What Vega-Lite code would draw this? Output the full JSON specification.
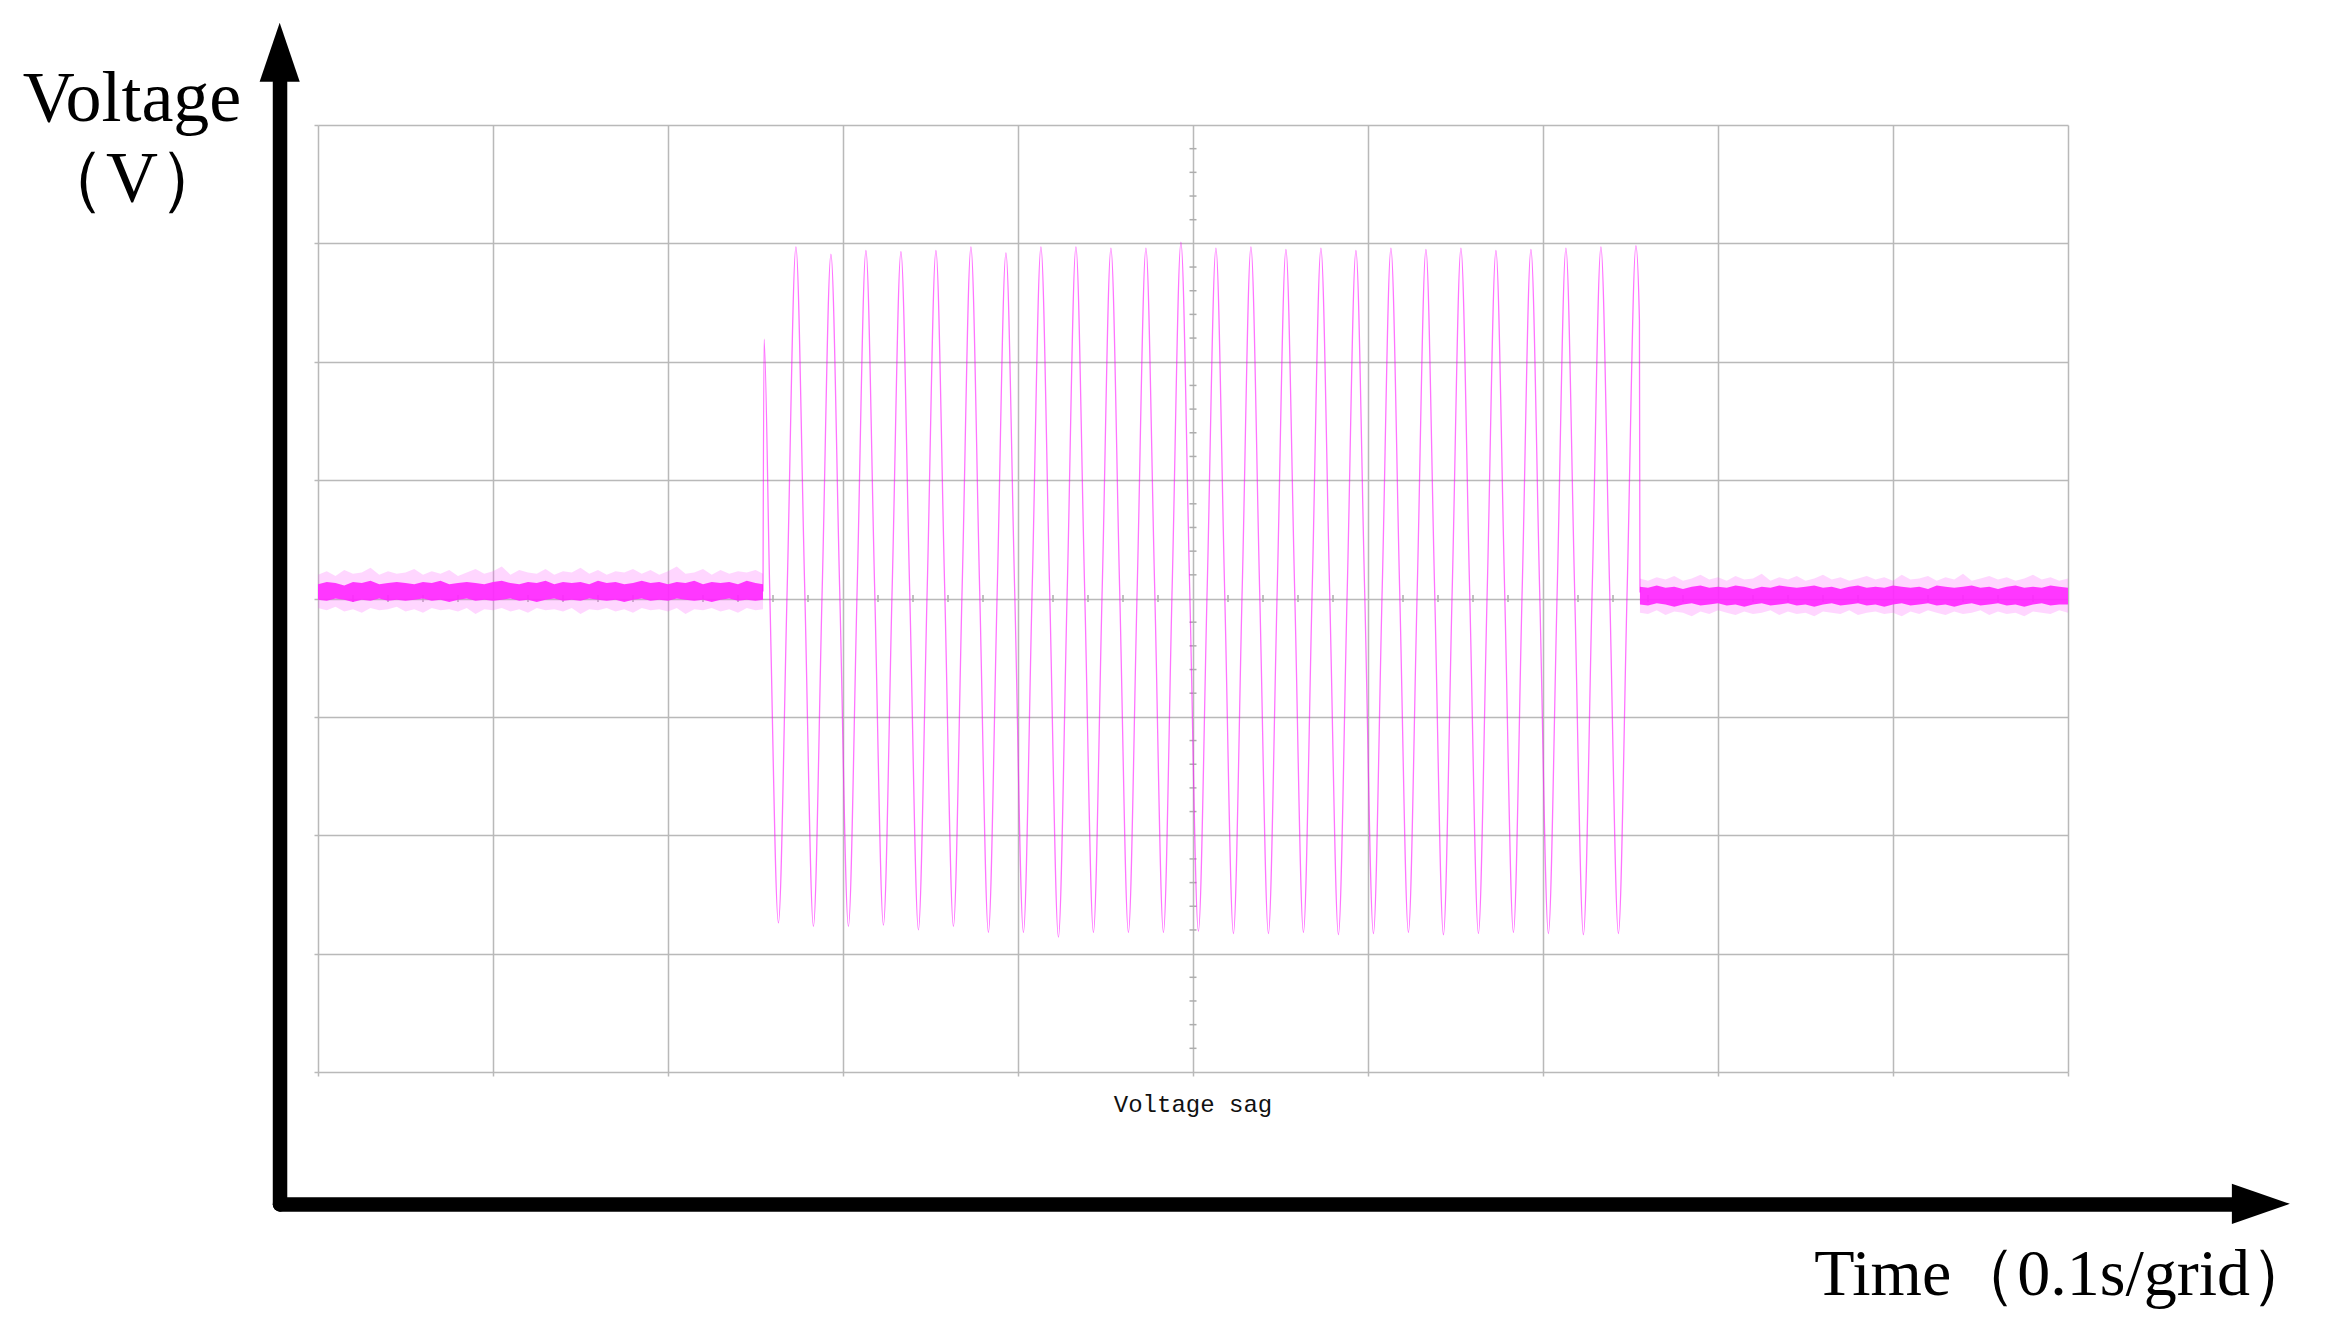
{
  "$schema": "https://vega.github.io/schema/vega-lite/v6.json",
  "width": 1750,
  "height": 947,
  "autosize": {"type": "none"},
  "padding": {"left": 318, "top": 125, "right": 264, "bottom": 257},
  "background": "white",
  "config": {
    "view": {"stroke": null},
    "axis": {"grid": true, "gridColor": "#b9b9b9", "gridWidth": 1.5, "labels": false, "domain": false, "ticks": true, "tickSize": 4, "tickColor": "#b9b9b9", "tickWidth": 1.5},
    "axisX": {"tickCount": 10},
    "axisY": {"tickCount": 8}
  },
  "datasets": {
    "sine": [
      {"t":0.2543,"v":6},{"t":0.2549,"v":219},{"t":0.2581,"v":9},{"t":0.2631,"v":-274},{"t":0.2681,"v":8},
      {"t":0.2731,"v":297},{"t":0.2781,"v":10},{"t":0.2831,"v":-277},{"t":0.2881,"v":7},
      {"t":0.2931,"v":291},{"t":0.2981,"v":8},{"t":0.3031,"v":-277},{"t":0.3081,"v":9},
      {"t":0.3131,"v":294},{"t":0.3181,"v":8},{"t":0.3231,"v":-276},{"t":0.3281,"v":9},
      {"t":0.3331,"v":293},{"t":0.3381,"v":7},{"t":0.3431,"v":-280},{"t":0.3481,"v":7},
      {"t":0.3531,"v":294},{"t":0.3581,"v":9},{"t":0.3631,"v":-277},{"t":0.3681,"v":10},
      {"t":0.3731,"v":297},{"t":0.3781,"v":7},{"t":0.3831,"v":-282},{"t":0.3881,"v":5},
      {"t":0.3931,"v":292},{"t":0.3981,"v":7},{"t":0.4031,"v":-282},{"t":0.4081,"v":8},
      {"t":0.4131,"v":297},{"t":0.4181,"v":6},{"t":0.4231,"v":-286},{"t":0.4281,"v":5},
      {"t":0.4331,"v":297},{"t":0.4381,"v":7},{"t":0.4431,"v":-282},{"t":0.4481,"v":7},
      {"t":0.4531,"v":296},{"t":0.4581,"v":7},{"t":0.4631,"v":-282},{"t":0.4681,"v":8},
      {"t":0.4731,"v":296},{"t":0.4781,"v":9},{"t":0.4831,"v":-282},{"t":0.4881,"v":10},
      {"t":0.4931,"v":301},{"t":0.4981,"v":9},{"t":0.5031,"v":-281},{"t":0.5081,"v":8},
      {"t":0.5131,"v":296},{"t":0.5181,"v":6},{"t":0.5231,"v":-283},{"t":0.5281,"v":7},
      {"t":0.5331,"v":297},{"t":0.5381,"v":6},{"t":0.5431,"v":-283},{"t":0.5481,"v":6},
      {"t":0.5531,"v":295},{"t":0.5581,"v":7},{"t":0.5631,"v":-282},{"t":0.5681,"v":7},
      {"t":0.5731,"v":296},{"t":0.5781,"v":5},{"t":0.5831,"v":-284},{"t":0.5881,"v":5},
      {"t":0.5931,"v":294},{"t":0.5981,"v":6},{"t":0.6031,"v":-283},{"t":0.6081,"v":7},
      {"t":0.6131,"v":296},{"t":0.6181,"v":7},{"t":0.6231,"v":-282},{"t":0.6281,"v":6},
      {"t":0.6331,"v":295},{"t":0.6381,"v":6},{"t":0.6431,"v":-284},{"t":0.6481,"v":6},
      {"t":0.6531,"v":296},{"t":0.6581,"v":6},{"t":0.6631,"v":-283},{"t":0.6681,"v":5},
      {"t":0.6731,"v":294},{"t":0.6781,"v":6},{"t":0.6831,"v":-282},{"t":0.6881,"v":7},
      {"t":0.6931,"v":295},{"t":0.6981,"v":6},{"t":0.7031,"v":-283},{"t":0.7081,"v":6},
      {"t":0.7131,"v":296},{"t":0.7181,"v":6},{"t":0.7231,"v":-284},{"t":0.7281,"v":7},
      {"t":0.7331,"v":297},{"t":0.7381,"v":7},{"t":0.7431,"v":-283},{"t":0.7481,"v":8},
      {"t":0.7531,"v":298},{"t":0.7551,"v":235},{"t":0.7554,"v":5}
    ],
    "noise": [
      {"seg":"a","t":0.000,"lo":-1,"hi":12,"lo2":-8,"hi2":20},
      {"seg":"a","t":0.005,"lo":-2,"hi":14,"lo2":-10,"hi2":23},
      {"seg":"a","t":0.010,"lo":0,"hi":13,"lo2":-7,"hi2":19},
      {"seg":"a","t":0.015,"lo":-1,"hi":11,"lo2":-11,"hi2":24},
      {"seg":"a","t":0.020,"lo":-3,"hi":14,"lo2":-9,"hi2":21},
      {"seg":"a","t":0.025,"lo":-1,"hi":13,"lo2":-12,"hi2":22},
      {"seg":"a","t":0.030,"lo":-2,"hi":15,"lo2":-8,"hi2":26},
      {"seg":"a","t":0.035,"lo":0,"hi":12,"lo2":-10,"hi2":20},
      {"seg":"a","t":0.040,"lo":-2,"hi":13,"lo2":-9,"hi2":23},
      {"seg":"a","t":0.045,"lo":-1,"hi":14,"lo2":-7,"hi2":21},
      {"seg":"a","t":0.050,"lo":-2,"hi":13,"lo2":-11,"hi2":22},
      {"seg":"a","t":0.055,"lo":-1,"hi":12,"lo2":-9,"hi2":25},
      {"seg":"a","t":0.060,"lo":0,"hi":14,"lo2":-12,"hi2":20},
      {"seg":"a","t":0.065,"lo":-2,"hi":13,"lo2":-8,"hi2":23},
      {"seg":"a","t":0.070,"lo":-1,"hi":15,"lo2":-10,"hi2":21},
      {"seg":"a","t":0.075,"lo":-3,"hi":12,"lo2":-9,"hi2":24},
      {"seg":"a","t":0.080,"lo":-1,"hi":13,"lo2":-11,"hi2":19},
      {"seg":"a","t":0.085,"lo":0,"hi":14,"lo2":-8,"hi2":22},
      {"seg":"a","t":0.090,"lo":-2,"hi":13,"lo2":-13,"hi2":25},
      {"seg":"a","t":0.095,"lo":-1,"hi":12,"lo2":-9,"hi2":21},
      {"seg":"a","t":0.100,"lo":-2,"hi":14,"lo2":-10,"hi2":23},
      {"seg":"a","t":0.105,"lo":-1,"hi":15,"lo2":-8,"hi2":27},
      {"seg":"a","t":0.110,"lo":0,"hi":13,"lo2":-11,"hi2":20},
      {"seg":"a","t":0.115,"lo":-2,"hi":12,"lo2":-9,"hi2":24},
      {"seg":"a","t":0.120,"lo":-1,"hi":14,"lo2":-12,"hi2":22},
      {"seg":"a","t":0.125,"lo":-3,"hi":13,"lo2":-8,"hi2":21},
      {"seg":"a","t":0.130,"lo":-1,"hi":15,"lo2":-10,"hi2":25},
      {"seg":"a","t":0.135,"lo":0,"hi":12,"lo2":-9,"hi2":20},
      {"seg":"a","t":0.140,"lo":-2,"hi":14,"lo2":-11,"hi2":23},
      {"seg":"a","t":0.145,"lo":-1,"hi":13,"lo2":-8,"hi2":22},
      {"seg":"a","t":0.150,"lo":-2,"hi":14,"lo2":-13,"hi2":26},
      {"seg":"a","t":0.155,"lo":0,"hi":12,"lo2":-9,"hi2":21},
      {"seg":"a","t":0.160,"lo":-1,"hi":15,"lo2":-10,"hi2":24},
      {"seg":"a","t":0.165,"lo":-2,"hi":13,"lo2":-8,"hi2":20},
      {"seg":"a","t":0.170,"lo":-1,"hi":14,"lo2":-11,"hi2":23},
      {"seg":"a","t":0.175,"lo":-3,"hi":12,"lo2":-9,"hi2":22},
      {"seg":"a","t":0.180,"lo":-1,"hi":13,"lo2":-12,"hi2":25},
      {"seg":"a","t":0.185,"lo":0,"hi":15,"lo2":-8,"hi2":21},
      {"seg":"a","t":0.190,"lo":-2,"hi":13,"lo2":-10,"hi2":24},
      {"seg":"a","t":0.195,"lo":-1,"hi":14,"lo2":-9,"hi2":20},
      {"seg":"a","t":0.200,"lo":-2,"hi":12,"lo2":-11,"hi2":23},
      {"seg":"a","t":0.205,"lo":0,"hi":14,"lo2":-8,"hi2":27},
      {"seg":"a","t":0.210,"lo":-1,"hi":13,"lo2":-13,"hi2":21},
      {"seg":"a","t":0.215,"lo":-2,"hi":15,"lo2":-9,"hi2":22},
      {"seg":"a","t":0.220,"lo":-1,"hi":12,"lo2":-10,"hi2":25},
      {"seg":"a","t":0.225,"lo":-3,"hi":14,"lo2":-8,"hi2":20},
      {"seg":"a","t":0.230,"lo":-1,"hi":13,"lo2":-11,"hi2":24},
      {"seg":"a","t":0.235,"lo":0,"hi":14,"lo2":-9,"hi2":21},
      {"seg":"a","t":0.240,"lo":-2,"hi":12,"lo2":-12,"hi2":23},
      {"seg":"a","t":0.245,"lo":-1,"hi":15,"lo2":-8,"hi2":22},
      {"seg":"a","t":0.250,"lo":-2,"hi":13,"lo2":-10,"hi2":24},
      {"seg":"a","t":0.2543,"lo":-1,"hi":12,"lo2":-9,"hi2":21},
      {"seg":"b","t":0.7554,"lo":-5,"hi":10,"lo2":-12,"hi2":17},
      {"seg":"b","t":0.760,"lo":-6,"hi":9,"lo2":-13,"hi2":15},
      {"seg":"b","t":0.765,"lo":-4,"hi":11,"lo2":-10,"hi2":18},
      {"seg":"b","t":0.770,"lo":-5,"hi":9,"lo2":-14,"hi2":16},
      {"seg":"b","t":0.775,"lo":-7,"hi":10,"lo2":-11,"hi2":19},
      {"seg":"b","t":0.780,"lo":-5,"hi":8,"lo2":-12,"hi2":15},
      {"seg":"b","t":0.785,"lo":-4,"hi":10,"lo2":-15,"hi2":17},
      {"seg":"b","t":0.790,"lo":-6,"hi":11,"lo2":-11,"hi2":20},
      {"seg":"b","t":0.795,"lo":-5,"hi":9,"lo2":-13,"hi2":16},
      {"seg":"b","t":0.800,"lo":-4,"hi":10,"lo2":-10,"hi2":18},
      {"seg":"b","t":0.805,"lo":-6,"hi":9,"lo2":-12,"hi2":15},
      {"seg":"b","t":0.810,"lo":-5,"hi":11,"lo2":-14,"hi2":19},
      {"seg":"b","t":0.815,"lo":-7,"hi":10,"lo2":-11,"hi2":16},
      {"seg":"b","t":0.820,"lo":-5,"hi":8,"lo2":-13,"hi2":17},
      {"seg":"b","t":0.825,"lo":-4,"hi":10,"lo2":-12,"hi2":21},
      {"seg":"b","t":0.830,"lo":-6,"hi":9,"lo2":-10,"hi2":15},
      {"seg":"b","t":0.835,"lo":-5,"hi":11,"lo2":-14,"hi2":18},
      {"seg":"b","t":0.840,"lo":-4,"hi":10,"lo2":-11,"hi2":16},
      {"seg":"b","t":0.845,"lo":-6,"hi":9,"lo2":-13,"hi2":19},
      {"seg":"b","t":0.850,"lo":-5,"hi":10,"lo2":-12,"hi2":15},
      {"seg":"b","t":0.855,"lo":-7,"hi":11,"lo2":-15,"hi2":17},
      {"seg":"b","t":0.860,"lo":-5,"hi":9,"lo2":-11,"hi2":20},
      {"seg":"b","t":0.865,"lo":-4,"hi":10,"lo2":-12,"hi2":16},
      {"seg":"b","t":0.870,"lo":-6,"hi":8,"lo2":-13,"hi2":18},
      {"seg":"b","t":0.875,"lo":-5,"hi":10,"lo2":-10,"hi2":15},
      {"seg":"b","t":0.880,"lo":-4,"hi":11,"lo2":-14,"hi2":17},
      {"seg":"b","t":0.885,"lo":-6,"hi":9,"lo2":-12,"hi2":19},
      {"seg":"b","t":0.890,"lo":-5,"hi":10,"lo2":-11,"hi2":16},
      {"seg":"b","t":0.895,"lo":-7,"hi":9,"lo2":-13,"hi2":18},
      {"seg":"b","t":0.900,"lo":-5,"hi":11,"lo2":-12,"hi2":15},
      {"seg":"b","t":0.905,"lo":-4,"hi":10,"lo2":-15,"hi2":20},
      {"seg":"b","t":0.910,"lo":-6,"hi":9,"lo2":-11,"hi2":16},
      {"seg":"b","t":0.915,"lo":-5,"hi":10,"lo2":-13,"hi2":17},
      {"seg":"b","t":0.920,"lo":-4,"hi":8,"lo2":-10,"hi2":19},
      {"seg":"b","t":0.925,"lo":-6,"hi":11,"lo2":-12,"hi2":15},
      {"seg":"b","t":0.930,"lo":-5,"hi":10,"lo2":-14,"hi2":18},
      {"seg":"b","t":0.935,"lo":-7,"hi":9,"lo2":-11,"hi2":16},
      {"seg":"b","t":0.940,"lo":-5,"hi":10,"lo2":-13,"hi2":21},
      {"seg":"b","t":0.945,"lo":-4,"hi":11,"lo2":-12,"hi2":15},
      {"seg":"b","t":0.950,"lo":-6,"hi":9,"lo2":-10,"hi2":17},
      {"seg":"b","t":0.955,"lo":-5,"hi":10,"lo2":-14,"hi2":19},
      {"seg":"b","t":0.960,"lo":-4,"hi":8,"lo2":-11,"hi2":16},
      {"seg":"b","t":0.965,"lo":-6,"hi":10,"lo2":-13,"hi2":18},
      {"seg":"b","t":0.970,"lo":-5,"hi":11,"lo2":-12,"hi2":15},
      {"seg":"b","t":0.975,"lo":-7,"hi":9,"lo2":-15,"hi2":17},
      {"seg":"b","t":0.980,"lo":-5,"hi":10,"lo2":-11,"hi2":20},
      {"seg":"b","t":0.985,"lo":-4,"hi":9,"lo2":-12,"hi2":16},
      {"seg":"b","t":0.990,"lo":-6,"hi":11,"lo2":-13,"hi2":18},
      {"seg":"b","t":0.995,"lo":-5,"hi":10,"lo2":-10,"hi2":15},
      {"seg":"b","t":1.000,"lo":-5,"hi":9,"lo2":-12,"hi2":17}
    ],
    "minorY": [
      {"v":-380},{"v":-360},{"v":-340},{"v":-320},{"v":-280},{"v":-260},{"v":-240},{"v":-220},
      {"v":-180},{"v":-160},{"v":-140},{"v":-120},{"v":-80},{"v":-60},{"v":-40},{"v":-20},
      {"v":20},{"v":40},{"v":60},{"v":80},{"v":120},{"v":140},{"v":160},{"v":180},
      {"v":220},{"v":240},{"v":260},{"v":280},{"v":320},{"v":340},{"v":360},{"v":380}
    ],
    "minorX": [
      {"t":0.02},{"t":0.04},{"t":0.06},{"t":0.08},{"t":0.12},{"t":0.14},{"t":0.16},{"t":0.18},
      {"t":0.22},{"t":0.24},{"t":0.26},{"t":0.28},{"t":0.32},{"t":0.34},{"t":0.36},{"t":0.38},
      {"t":0.42},{"t":0.44},{"t":0.46},{"t":0.48},{"t":0.52},{"t":0.54},{"t":0.56},{"t":0.58},
      {"t":0.62},{"t":0.64},{"t":0.66},{"t":0.68},{"t":0.72},{"t":0.74},{"t":0.76},{"t":0.78},
      {"t":0.82},{"t":0.84},{"t":0.86},{"t":0.88},{"t":0.92},{"t":0.94},{"t":0.96},{"t":0.98}
    ]
  },
  "layer": [
    {
      "data": {"name": "minorY"},
      "mark": {"type": "rule", "color": "#adadad", "strokeWidth": 1.5},
      "encoding": {
        "x": {"datum": 0.498, "type": "quantitative", "title": null, "scale": {"domain": [0, 1], "nice": false, "zero": false}},
        "x2": {"datum": 0.502},
        "y": {"field": "v", "type": "quantitative", "title": null, "scale": {"domain": [-400, 400], "nice": false, "zero": false}}
      }
    },
    {
      "data": {"name": "minorX"},
      "mark": {"type": "rule", "color": "#adadad", "strokeWidth": 1.5},
      "encoding": {
        "x": {"field": "t", "type": "quantitative", "title": null, "scale": {"domain": [0, 1], "nice": false, "zero": false}},
        "y": {"datum": -3, "type": "quantitative", "title": null, "scale": {"domain": [-400, 400], "nice": false, "zero": false}},
        "y2": {"datum": 3}
      }
    },
    {
      "data": {"name": "noise"},
      "mark": {"type": "area", "color": "#ff5cff", "opacity": 0.25},
      "encoding": {
        "x": {"field": "t", "type": "quantitative", "title": null, "scale": {"domain": [0, 1], "nice": false, "zero": false}},
        "y": {"field": "lo2", "type": "quantitative", "title": null, "scale": {"domain": [-400, 400], "nice": false, "zero": false}},
        "y2": {"field": "hi2"},
        "detail": {"field": "seg"}
      }
    },
    {
      "data": {"name": "noise"},
      "mark": {"type": "area", "color": "#ff26ff", "opacity": 0.9},
      "encoding": {
        "x": {"field": "t", "type": "quantitative", "title": null, "scale": {"domain": [0, 1], "nice": false, "zero": false}},
        "y": {"field": "lo", "type": "quantitative", "title": null, "scale": {"domain": [-400, 400], "nice": false, "zero": false}},
        "y2": {"field": "hi"},
        "detail": {"field": "seg"}
      }
    },
    {
      "data": {"name": "sine"},
      "mark": {"type": "line", "interpolate": "monotone", "color": "#ff00ff", "strokeWidth": 1.3, "opacity": 0.55},
      "encoding": {
        "x": {"field": "t", "type": "quantitative", "title": null, "scale": {"domain": [0, 1], "nice": false, "zero": false}},
        "y": {"field": "v", "type": "quantitative", "title": null, "scale": {"domain": [-400, 400], "nice": false, "zero": false}}
      }
    },
    {
      "data": {"values": [{}]},
      "mark": {"type": "rule", "color": "black", "strokeWidth": 14.5, "strokeCap": "round"},
      "encoding": {
        "x": {"datum": -0.0217, "type": "quantitative", "title": null, "scale": {"domain": [0, 1], "nice": false, "zero": false}},
        "y": {"datum": -511.9, "type": "quantitative", "title": null, "scale": {"domain": [-400, 400], "nice": false, "zero": false}},
        "y2": {"datum": 436}
      }
    },
    {
      "data": {"values": [{}]},
      "mark": {"type": "rule", "color": "black", "strokeWidth": 14.5, "strokeCap": "round"},
      "encoding": {
        "x": {"datum": -0.0217, "type": "quantitative", "title": null, "scale": {"domain": [0, 1], "nice": false, "zero": false}},
        "x2": {"datum": 1.0954},
        "y": {"datum": -511.9, "type": "quantitative", "title": null, "scale": {"domain": [-400, 400], "nice": false, "zero": false}}
      }
    },
    {
      "data": {"values": [{}]},
      "mark": {"type": "point", "shape": "M0,-1L0.68,1L-0.68,1Z", "size": 3481, "filled": true, "color": "black", "opacity": 1, "strokeWidth": 0},
      "encoding": {
        "x": {"datum": -0.0219, "type": "quantitative", "title": null, "scale": {"domain": [0, 1], "nice": false, "zero": false}},
        "y": {"datum": 461.5, "type": "quantitative", "title": null, "scale": {"domain": [-400, 400], "nice": false, "zero": false}}
      }
    },
    {
      "data": {"values": [{}]},
      "mark": {"type": "point", "shape": "M1,0L-1,-0.69L-1,0.69Z", "size": 3364, "filled": true, "color": "black", "opacity": 1, "strokeWidth": 0},
      "encoding": {
        "x": {"datum": 1.1102, "type": "quantitative", "title": null, "scale": {"domain": [0, 1], "nice": false, "zero": false}},
        "y": {"datum": -511.4, "type": "quantitative", "title": null, "scale": {"domain": [-400, 400], "nice": false, "zero": false}}
      }
    },
    {
      "data": {"values": [{}]},
      "mark": {"type": "text", "text": ["Voltage", "（V）"], "font": "Liberation Serif", "fontSize": 72, "lineHeight": 80, "align": "center", "baseline": "alphabetic", "color": "black"},
      "encoding": {
        "x": {"datum": -0.1063, "type": "quantitative", "title": null, "scale": {"domain": [0, 1], "nice": false, "zero": false}},
        "y": {"datum": 403.6, "type": "quantitative", "title": null, "scale": {"domain": [-400, 400], "nice": false, "zero": false}}
      }
    },
    {
      "data": {"values": [{}]},
      "mark": {"type": "text", "text": "Time（0.1s/grid）", "font": "Liberation Serif", "fontSize": 66, "align": "left", "baseline": "alphabetic", "color": "black"},
      "encoding": {
        "x": {"datum": 0.855, "type": "quantitative", "title": null, "scale": {"domain": [0, 1], "nice": false, "zero": false}},
        "y": {"datum": -588.4, "type": "quantitative", "title": null, "scale": {"domain": [-400, 400], "nice": false, "zero": false}}
      }
    },
    {
      "data": {"values": [{}]},
      "mark": {"type": "text", "text": "Voltage sag", "font": "Liberation Mono", "fontSize": 24, "align": "center", "baseline": "alphabetic", "color": "#111111"},
      "encoding": {
        "x": {"datum": 0.5, "type": "quantitative", "title": null, "scale": {"domain": [0, 1], "nice": false, "zero": false}},
        "y": {"datum": -433.8, "type": "quantitative", "title": null, "scale": {"domain": [-400, 400], "nice": false, "zero": false}}
      }
    }
  ]
}
